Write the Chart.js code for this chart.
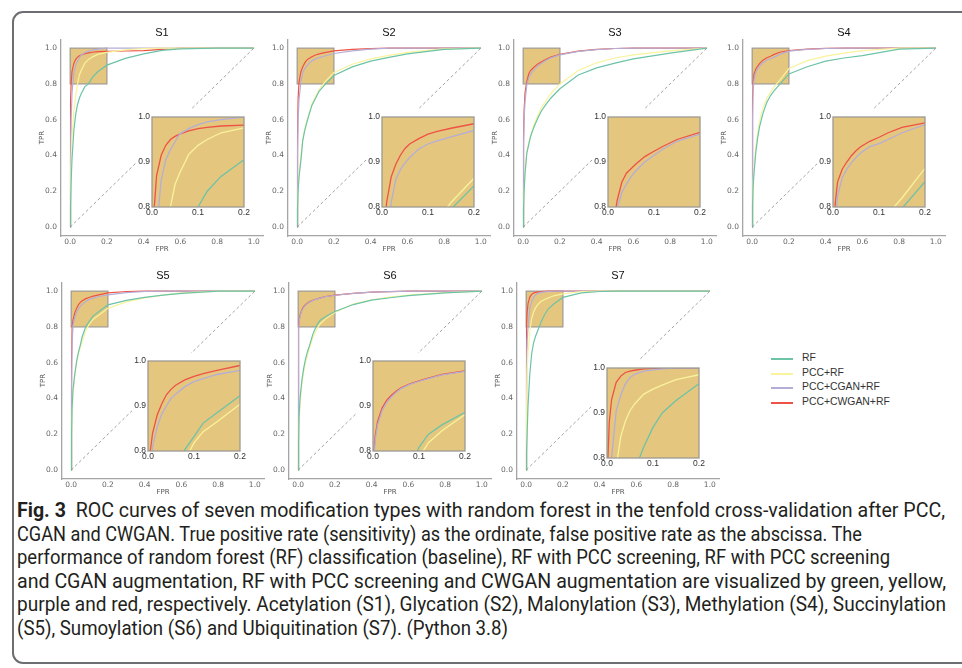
<!DOCTYPE html>
<html>
<head>
<meta charset="utf-8">
<script src="https://cdn.jsdelivr.net/npm/chart.js@4.4.1/dist/chart.umd.min.js"></script>
<style>
  html, body { margin: 0; padding: 0; background: #fff; }
  body { width: 962px; height: 668px; position: relative; overflow: hidden; font-family: "Liberation Sans", Arial, sans-serif; }
  .frame { position: absolute; left: 12px; top: 11px; width: 1000px; height: 653px; border: 2px solid #6d6e71; border-radius: 11px; box-sizing: border-box; }
  canvas { position: absolute; }
  canvas.inset { background: #fff; }
  #legend { position: absolute; left: 771px; top: 351px; font-size: 10.4px; color: #333; }
  #legend div { position: relative; height: 14.5px; line-height: 14.5px; padding-left: 31px; white-space: nowrap; }
  #legend b { position: absolute; left: 0; top: 7px; width: 22px; height: 2px; }
  #caption { position: absolute; left: 17px; top: 499px; font-family: "Liberation Sans Narrow", "Roboto", sans-serif; font-size: 19.5px; color: #231f20; }
  #caption div { white-space: nowrap; transform-origin: 0 0; height: 23.6px; line-height: 23.6px; }
</style>
</head>
<body>
<div class="frame"></div>
<div id="legend"></div>
<div id="caption"></div>
<script>
// ROC points, every TPR array is read at these FPR values
const fprGrid = [0, 0.002, 0.005, 0.01, 0.02, 0.03, 0.04, 0.05, 0.06, 0.08, 0.1, 0.12, 0.15, 0.2, 0.3, 0.4, 0.5, 0.6, 0.8, 1.0];
const seriesNames = ["RF", "PCC+RF", "PCC+CGAN+RF", "PCC+CWGAN+RF"];
const panelTitles = ["S1", "S2", "S3", "S4", "S5", "S6", "S7"];
const mainTicks = [0, 0.2, 0.4, 0.6, 0.8, 1.0];
const insetXTicks = [0, 0.1, 0.2];
const insetYTicks = [0.8, 0.9, 1.0];

const s1Rf    = [0, 0.12, 0.25, 0.38, 0.54, 0.63, 0.685, 0.72, 0.745, 0.785, 0.80, 0.835, 0.868, 0.905, 0.943, 0.968, 0.988, 0.996, 1, 1];
const s1Pcc   = [0, 0.2, 0.35, 0.5, 0.65, 0.73, 0.80, 0.85, 0.875, 0.917, 0.937, 0.95, 0.965, 0.976, 0.99, 0.997, 1, 1, 1, 1];
const s1Cgan  = [0, 0.4, 0.6, 0.75, 0.86, 0.905, 0.927, 0.945, 0.962, 0.974, 0.983, 0.989, 0.994, 1, 1, 1, 1, 1, 1, 1];
const s1Cwgan = [0, 0.7, 0.8, 0.87, 0.915, 0.937, 0.95, 0.957, 0.962, 0.969, 0.974, 0.977, 0.98, 0.982, 0.984, 0.986, 0.993, 1, 1, 1];

const s2Rf    = [0, 0.1, 0.2, 0.28, 0.37, 0.48, 0.535, 0.575, 0.612, 0.68, 0.72, 0.76, 0.795, 0.847, 0.895, 0.927, 0.948, 0.968, 0.993, 1];
const s2Pcc   = [0, 0.1, 0.2, 0.29, 0.39, 0.49, 0.545, 0.585, 0.62, 0.688, 0.73, 0.77, 0.81, 0.864, 0.91, 0.94, 0.96, 0.976, 0.996, 1];
const s2Cgan  = [0, 0.4, 0.6, 0.71, 0.81, 0.862, 0.883, 0.898, 0.91, 0.929, 0.94, 0.947, 0.956, 0.97, 0.985, 0.994, 1, 1, 1, 1];
const s2Cwgan = [0, 0.5, 0.72, 0.81, 0.867, 0.895, 0.915, 0.93, 0.94, 0.952, 0.962, 0.968, 0.975, 0.985, 0.993, 0.997, 1, 1, 1, 1];

const s3Rf    = [0, 0.1, 0.2, 0.3, 0.415, 0.46, 0.505, 0.535, 0.562, 0.61, 0.65, 0.68, 0.72, 0.773, 0.85, 0.89, 0.916, 0.94, 0.972, 1];
const s3Pcc   = [0, 0.1, 0.2, 0.3, 0.42, 0.47, 0.51, 0.545, 0.575, 0.625, 0.668, 0.7, 0.745, 0.8, 0.875, 0.918, 0.945, 0.962, 0.985, 1];
const s3Cgan  = [0, 0.45, 0.6, 0.7, 0.797, 0.832, 0.851, 0.867, 0.88, 0.9, 0.915, 0.929, 0.946, 0.962, 0.982, 0.992, 0.998, 1, 1, 1];
const s3Cwgan = [0, 0.5, 0.65, 0.75, 0.815, 0.855, 0.875, 0.885, 0.895, 0.912, 0.924, 0.935, 0.95, 0.966, 0.983, 0.993, 0.998, 1, 1, 1];

const s4Rf    = [0, 0.12, 0.22, 0.3, 0.42, 0.5, 0.56, 0.6, 0.64, 0.698, 0.735, 0.763, 0.797, 0.856, 0.896, 0.927, 0.945, 0.958, 0.995, 1];
const s4Pcc   = [0, 0.15, 0.25, 0.33, 0.45, 0.53, 0.59, 0.635, 0.67, 0.72, 0.755, 0.785, 0.82, 0.886, 0.93, 0.955, 0.972, 0.986, 1, 1];
const s4Cgan  = [0, 0.6, 0.76, 0.825, 0.865, 0.884, 0.898, 0.91, 0.92, 0.934, 0.941, 0.95, 0.965, 0.983, 0.993, 0.998, 1, 1, 1, 1];
const s4Cwgan = [0, 0.72, 0.81, 0.856, 0.884, 0.9, 0.914, 0.925, 0.934, 0.946, 0.955, 0.965, 0.977, 0.987, 0.995, 0.999, 1, 1, 1, 1];

const s5Rf    = [0, 0.2, 0.35, 0.45, 0.54, 0.61, 0.66, 0.7, 0.745, 0.803, 0.832, 0.862, 0.885, 0.923, 0.948, 0.965, 0.978, 0.988, 1, 1];
const s5Pcc   = [0, 0.15, 0.3, 0.42, 0.53, 0.6, 0.65, 0.685, 0.72, 0.78, 0.818, 0.843, 0.865, 0.904, 0.94, 0.962, 0.978, 0.99, 1, 1];
const s5Cgan  = [0, 0.45, 0.7, 0.81, 0.854, 0.882, 0.9, 0.917, 0.926, 0.943, 0.954, 0.961, 0.97, 0.979, 0.992, 0.998, 1, 1, 1, 1];
const s5Cwgan = [0, 0.6, 0.8, 0.84, 0.88, 0.905, 0.925, 0.937, 0.946, 0.958, 0.966, 0.972, 0.979, 0.99, 0.998, 1, 1, 1, 1, 1];

const s6Rf    = [0, 0.15, 0.3, 0.4, 0.5, 0.57, 0.62, 0.66, 0.69, 0.76, 0.808, 0.837, 0.858, 0.886, 0.925, 0.95, 0.963, 0.975, 0.99, 1];
const s6Pcc   = [0, 0.12, 0.25, 0.37, 0.48, 0.55, 0.6, 0.64, 0.675, 0.74, 0.785, 0.818, 0.845, 0.881, 0.928, 0.952, 0.967, 0.978, 0.992, 1];
const s6Cgan  = [0, 0.78, 0.825, 0.858, 0.89, 0.908, 0.92, 0.93, 0.938, 0.948, 0.955, 0.961, 0.969, 0.977, 0.987, 0.994, 0.997, 1, 1, 1];
const s6Cwgan = [0, 0.8, 0.835, 0.866, 0.896, 0.913, 0.924, 0.933, 0.94, 0.949, 0.956, 0.962, 0.97, 0.978, 0.988, 0.994, 0.997, 1, 1, 1];

const s7Rf    = [0, 0.1, 0.2, 0.36, 0.54, 0.65, 0.71, 0.745, 0.772, 0.825, 0.868, 0.9, 0.928, 0.965, 0.99, 0.998, 1, 1, 1, 1];
const s7Pcc   = [0, 0.35, 0.55, 0.66, 0.78, 0.848, 0.882, 0.905, 0.92, 0.942, 0.953, 0.962, 0.974, 0.985, 0.998, 1, 1, 1, 1, 1];
const s7Cgan  = [0, 0.6, 0.72, 0.8, 0.905, 0.94, 0.965, 0.979, 0.986, 0.993, 0.996, 0.998, 1, 1, 1, 1, 1, 1, 1, 1];
const s7Cwgan = [0, 0.8, 0.88, 0.93, 0.968, 0.982, 0.99, 0.993, 0.995, 0.998, 0.999, 1, 1, 1, 1, 1, 1, 1, 1, 1];

const panelCurves = [
  [s1Rf, s1Pcc, s1Cgan, s1Cwgan],
  [s2Rf, s2Pcc, s2Cgan, s2Cwgan],
  [s3Rf, s3Pcc, s3Cgan, s3Cwgan],
  [s4Rf, s4Pcc, s4Cgan, s4Cwgan],
  [s5Rf, s5Pcc, s5Cgan, s5Cwgan],
  [s6Rf, s6Pcc, s6Cgan, s6Cwgan],
  [s7Rf, s7Pcc, s7Cgan, s7Cwgan]
];

// layout: y-spine x, x-spine y, inset box left, inset box top
const panelBoxes = [
  [61, 236, 151.7, 117.3],
  [288.3, 236, 381.7, 117.3],
  [514.3, 236, 608.3, 117.3],
  [743.3, 236, 833.3, 117.3],
  [61.7, 479.3, 147.7, 360.7],
  [289.3, 479.3, 373.3, 360.7],
  [517.3, 479.3, 606.7, 367.7]
];

const colors = ["#6cc3a8", "#f8f39c", "#b4aed6", "#ee5246"];
const TAN = "#e5c67e";
const EDGE = "#9d9a93";
const AREA_W = 202, AREA_H = 197;
const INSET_W = 92, INSET_H = 90;

const zoomRect = {
  id: "zoomRect",
  beforeDatasetsDraw(chart) {
    const { x, y } = chart.scales;
    const ctx = chart.ctx;
    const l = x.getPixelForValue(insetXTicks[0]), r = x.getPixelForValue(insetXTicks[2]);
    const t = y.getPixelForValue(insetYTicks[2]), b = y.getPixelForValue(insetYTicks[0]);
    ctx.save();
    ctx.fillStyle = TAN;
    ctx.fillRect(l, t, r - l, b - t);
    ctx.strokeStyle = EDGE;
    ctx.lineWidth = 1.2;
    ctx.strokeRect(l, t, r - l, b - t);
    ctx.restore();
  }
};

const insetFrame = {
  id: "insetFrame",
  beforeDatasetsDraw(chart) {
    const a = chart.chartArea;
    chart.ctx.save();
    chart.ctx.fillStyle = TAN;
    chart.ctx.fillRect(a.left, a.top, a.width, a.height);
    chart.ctx.restore();
  },
  afterDatasetsDraw(chart) {
    const a = chart.chartArea;
    chart.ctx.save();
    chart.ctx.strokeStyle = EDGE;
    chart.ctx.lineWidth = 1.3;
    chart.ctx.strokeRect(a.left, a.top, a.width, a.height);
    chart.ctx.restore();
  }
};

function curveSets(curves, width) {
  return curves.map((tpr, k) => ({
    label: seriesNames[k],
    data: fprGrid.map((f, i) => ({ x: f, y: tpr[i] })),
    borderColor: colors[k],
    borderWidth: width,
    pointRadius: 0,
    tension: 0
  }));
}

function addCanvas(left, top, w, h, cls) {
  const c = document.createElement("canvas");
  c.width = w; c.height = h;
  c.style.left = left + "px"; c.style.top = top + "px";
  c.style.width = w + "px"; c.style.height = h + "px";
  if (cls) c.className = cls;
  document.body.appendChild(c);
  return c;
}

function mainChart(idx) {
  const [sx, sy] = panelBoxes[idx];
  const yW = 27, xH = 20, titleH = 13.2, padR = 2;
  const w = yW + AREA_W + padR, h = titleH + AREA_H + xH;
  const canvas = addCanvas(sx - yW, sy - AREA_H - titleH, w, h);
  const tickFont = { family: "DejaVu Sans", size: 7.5 };
  const diag = {
    data: [{ x: 0, y: 0 }, { x: 1, y: 1 }],
    borderColor: "#8a8a8a", borderWidth: 0.8, borderDash: [3, 2.5], pointRadius: 0
  };
  new Chart(canvas, {
    type: "line",
    data: { datasets: [diag, ...curveSets(panelCurves[idx], 1.2)] },
    plugins: [zoomRect],
    options: {
      responsive: false, animation: false, devicePixelRatio: 1,
      layout: { padding: { left: 0, right: padR, top: 0, bottom: 0 } },
      plugins: {
        legend: { display: false }, tooltip: { enabled: false },
        title: {
          display: true, text: panelTitles[idx], fullSize: false, color: "#111",
          font: { family: "Liberation Sans", size: 11, weight: "normal" },
          padding: { top: 0, bottom: 0 }
        }
      },
      scales: {
        x: {
          type: "linear", min: -0.05, max: 1.05,
          grid: { display: false, drawTicks: false },
          border: { display: true, color: "#a5a5a5", width: 1.3 },
          afterBuildTicks: s => { s.ticks = mainTicks.map(v => ({ value: v })); },
          afterFit: s => { s.height = xH; },
          ticks: { font: tickFont, color: "#666", padding: 1.5, maxRotation: 0, callback: v => v.toFixed(1) },
          title: { display: true, text: "FPR", color: "#555", font: { family: "DejaVu Sans", size: 7 }, padding: { top: 0, bottom: 3 } }
        },
        y: {
          type: "linear", min: -0.05, max: 1.05,
          grid: { display: false, drawTicks: false },
          border: { display: true, color: "#a5a5a5", width: 1.3 },
          afterBuildTicks: s => { s.ticks = mainTicks.map(v => ({ value: v })); },
          afterFit: s => { s.width = yW; },
          ticks: { font: tickFont, color: "#666", padding: 4, callback: v => v.toFixed(1) },
          title: { display: true, text: "TPR", color: "#555", font: { family: "DejaVu Sans", size: 7 }, padding: { top: 4.3, bottom: 0 } }
        }
      }
    }
  });
}

function insetChart(idx) {
  const [, , ix, iy] = panelBoxes[idx];
  const yW = 16, xH = 12, padT = 8, padR = 9;
  const canvas = addCanvas(ix - yW, iy - padT, yW + INSET_W + padR, padT + INSET_H + xH, "inset");
  const tickFont = { family: "Liberation Sans", size: 8.5 };
  new Chart(canvas, {
    type: "line",
    data: { datasets: curveSets(panelCurves[idx], 1.3) },
    plugins: [insetFrame],
    options: {
      responsive: false, animation: false, devicePixelRatio: 1,
      layout: { padding: { left: 0, right: padR, top: padT, bottom: 0 } },
      plugins: { legend: { display: false }, tooltip: { enabled: false } },
      scales: {
        x: {
          type: "linear", min: insetXTicks[0], max: insetXTicks[2],
          grid: { display: false, drawTicks: false }, border: { display: false },
          afterBuildTicks: s => { s.ticks = insetXTicks.map(v => ({ value: v })); },
          afterFit: s => { s.height = xH; },
          ticks: { font: tickFont, color: "#333", padding: 1, maxRotation: 0, callback: v => v.toFixed(1) }
        },
        y: {
          type: "linear", min: insetYTicks[0], max: insetYTicks[2],
          grid: { display: false, drawTicks: false }, border: { display: false },
          afterBuildTicks: s => { s.ticks = insetYTicks.map(v => ({ value: v })); },
          afterFit: s => { s.width = yW; },
          ticks: { font: tickFont, color: "#333", padding: 2, callback: v => v.toFixed(1) }
        }
      }
    }
  });
}

for (let i = 0; i < panelTitles.length; i++) {
  mainChart(i);
  insetChart(i);
}

// legend
const legend = document.getElementById("legend");
seriesNames.forEach((name, k) => {
  const row = document.createElement("div");
  const swatch = document.createElement("b");
  swatch.style.background = colors[k];
  row.appendChild(swatch);
  row.appendChild(document.createTextNode(name));
  legend.appendChild(row);
});

// caption, each line stretched to the width it has in the figure
const captionLines = [
  "<b>Fig. 3</b>&nbsp; ROC curves of seven modification types with random forest in the tenfold cross-validation after PCC,",
  "CGAN and CWGAN. True positive rate (sensitivity) as the ordinate, false positive rate as the abscissa. The",
  "performance of random forest (RF) classification (baseline), RF with PCC screening, RF with PCC screening",
  "and CGAN augmentation, RF with PCC screening and CWGAN augmentation are visualized by green, yellow,",
  "purple and red, respectively. Acetylation (S1), Glycation (S2), Malonylation (S3), Methylation (S4), Succinylation",
  "(S5), Sumoylation (S6) and Ubiquitination (S7). (Python 3.8)"
];
const captionWidths = [928, 845, 873, 929, 929, 491];
const caption = document.getElementById("caption");
captionLines.forEach((html, i) => {
  const d = document.createElement("div");
  d.innerHTML = html;
  d.style.display = "inline-block";
  caption.appendChild(d);
  caption.appendChild(document.createElement("br"));
  const wNow = d.getBoundingClientRect().width;
  d.style.transform = "scaleX(" + (captionWidths[i] / wNow) + ")";
});
</script>
</body>
</html>
